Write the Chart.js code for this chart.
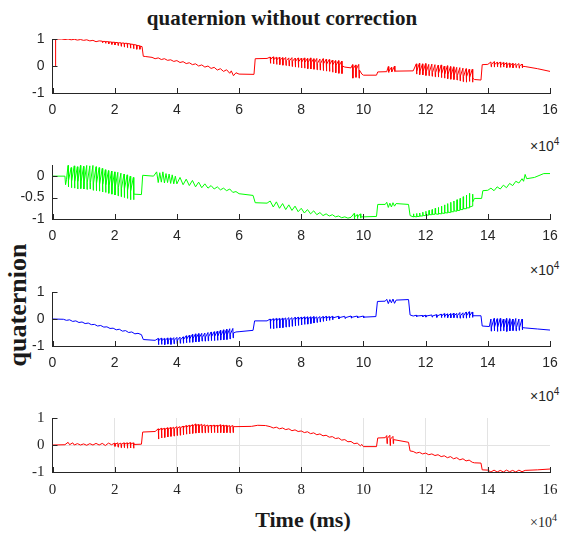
<!DOCTYPE html>
<html>
<head>
<meta charset="utf-8">
<script src="https://cdn.jsdelivr.net/npm/chart.js@4.4.1/dist/chart.umd.min.js"></script>
<style>
  body { margin: 0; background: #fff; }
  #wrap { position: relative; width: 562px; height: 533px; background: #fff; overflow: hidden; }
  canvas { position: absolute; left: 0; }
  .lbl { position: absolute; color: #262626; white-space: nowrap; }
  .serifb { font-family: "Liberation Serif", "Times New Roman", serif; font-weight: bold; color: #1a1a1a; }
  .exp { font-family: "Liberation Sans", Arial, sans-serif; font-size: 14px; }
  .exp sup { font-size: 10px; }
</style>
</head>
<body>
<div id="wrap">
  <div class="lbl serifb" style="left:0;width:564px;top:6px;text-align:center;font-size:21px;">quaternion without correction</div>
  <div class="lbl serifb" style="left:18px;top:305px;font-size:26px;transform:translate(-50%,-50%) rotate(-90deg);">quaternion</div>
  <div class="lbl serifb" style="left:303px;top:520px;font-size:22px;transform:translate(-50%,-50%);">Time (ms)</div>
  <div class="lbl exp" style="left:530px;top:136px;">&times;10<sup>4</sup></div>
  <div class="lbl exp" style="left:530px;top:260px;">&times;10<sup>4</sup></div>
  <div class="lbl exp" style="left:530px;top:386px;">&times;10<sup>4</sup></div>
  <div class="lbl exp" style="left:530px;top:512px;font-family:'Liberation Serif',serif;">&times;10<sup>4</sup></div>
  <canvas id="c0" width="562" height="100" style="top:31px"></canvas>
  <canvas id="c1" width="562" height="100" style="top:157px"></canvas>
  <canvas id="c2" width="562" height="100" style="top:284px"></canvas>
  <canvas id="c3" width="562" height="100" style="top:410px"></canvas>
</div>
<script>
// [time (x10^4 ms), value]
const q0 = [[0.1,0],[0.1,1.0],[0.3,1.0],[0.4,0.98],[0.5,1.0],[0.6,0.97],[0.7,0.99],[0.8,0.96],[0.9,0.98],[1.0,0.95],[1.1,0.97],[1.2,0.93],[1.3,0.95],[1.4,0.9],[1.5,0.93],
  [1.6,0.92],[1.61,0.86],[1.62,0.91],[1.7,0.91],[1.71,0.84],[1.72,0.9],[1.8,0.9],[1.81,0.82],[1.82,0.89],[1.9,0.89],[1.91,0.8],[1.92,0.88],[2.0,0.88],[2.01,0.78],[2.02,0.87],
  [2.1,0.87],[2.11,0.76],[2.12,0.86],[2.2,0.86],[2.21,0.73],[2.22,0.85],[2.3,0.85],[2.31,0.7],[2.32,0.84],[2.4,0.84],[2.41,0.68],[2.42,0.83],[2.5,0.82],[2.51,0.66],[2.52,0.81],
  [2.6,0.8],[2.61,0.64],[2.62,0.79],[2.7,0.78],[2.71,0.62],[2.72,0.76],[2.8,0.75],[2.81,0.62],[2.82,0.73],[2.88,0.72],
  [2.92,0.36],[3.0,0.35],[3.2,0.32],[3.3,0.27],[3.4,0.3],[3.5,0.24],[3.6,0.27],[3.7,0.21],[3.8,0.23],[3.9,0.17],[4.0,0.2],[4.1,0.13],[4.2,0.16],[4.3,0.09],[4.4,0.12],[4.5,0.05],[4.6,0.08],[4.7,0.0],[4.8,0.04],[4.9,-0.04],[5.0,0.0],[5.1,-0.09],[5.2,-0.05],[5.3,-0.15],[5.4,-0.1],[5.5,-0.2],[5.6,-0.14],[5.7,-0.27],[5.75,-0.18],[5.82,-0.36],[5.9,-0.25],[6.0,-0.3],
  [6.48,-0.31],[6.52,0.27],[6.9,0.28],
  [7.0,0.33],[7.01,0.1],[7.02,0.25],[7.1,0.34],[7.11,0.08],[7.12,0.24],[7.2,0.32],[7.21,0.06],[7.22,0.23],[7.3,0.33],[7.31,0.05],[7.32,0.22],[7.4,0.31],[7.41,0.03],[7.42,0.21],
  [7.5,0.32],[7.51,0.02],[7.52,0.2],[7.6,0.3],[7.61,0.0],[7.62,0.19],[7.7,0.31],[7.71,-0.02],[7.72,0.18],[7.8,0.29],[7.81,-0.04],[7.82,0.17],[7.9,0.3],[7.91,-0.05],[7.92,0.16],
  [8.0,0.29],[8.01,-0.07],[8.02,0.15],[8.1,0.3],[8.11,-0.08],[8.12,0.14],[8.2,0.28],[8.21,-0.1],[8.22,0.13],[8.3,0.3],[8.31,-0.11],[8.32,0.12],[8.4,0.27],[8.41,-0.12],[8.42,0.11],
  [8.5,0.28],[8.51,-0.14],[8.52,0.1],[8.6,0.26],[8.61,-0.15],[8.62,0.09],[8.7,0.27],[8.71,-0.17],[8.72,0.08],[8.8,0.25],[8.81,-0.19],[8.82,0.07],[8.9,0.24],[8.91,-0.2],[8.92,0.06],
  [9.0,0.22],[9.01,-0.23],[9.02,0.05],[9.1,0.2],[9.11,-0.25],[9.12,0.03],[9.2,0.2],[9.21,-0.27],[9.22,0.02],[9.3,0.18],[9.31,-0.28],[9.32,0.0],
  [9.4,-0.04],[9.6,-0.07],[9.65,0.05],[9.66,-0.45],[9.67,-0.1],[9.75,0.04],[9.76,-0.42],[9.77,-0.12],[9.85,0.06],[9.86,-0.45],[9.87,-0.15],[9.95,-0.3],
  [10.0,-0.34],[10.42,-0.34],[10.46,-0.22],[10.75,-0.21],[10.8,-0.02],[10.81,-0.24],[10.82,-0.2],[10.9,-0.05],[10.91,-0.22],[10.92,-0.2],[11.0,0.0],[11.01,-0.2],[11.02,-0.19],[11.6,-0.18],
  [11.7,0.08],[11.71,-0.3],[11.72,-0.18],[11.8,0.1],[11.81,-0.32],[11.82,-0.19],[11.9,0.08],[11.91,-0.33],[11.92,-0.2],[12.0,0.09],[12.01,-0.35],[12.02,-0.21],
  [12.1,0.06],[12.11,-0.36],[12.12,-0.22],[12.2,0.07],[12.21,-0.38],[12.22,-0.24],[12.3,0.05],[12.31,-0.4],[12.32,-0.25],[12.4,0.03],[12.41,-0.41],[12.42,-0.27],
  [12.5,0.04],[12.51,-0.43],[12.52,-0.28],[12.6,0.0],[12.61,-0.45],[12.62,-0.3],[12.7,0.01],[12.71,-0.47],[12.72,-0.31],[12.8,-0.02],[12.81,-0.49],[12.82,-0.33],
  [12.9,-0.03],[12.91,-0.5],[12.92,-0.34],[13.0,-0.05],[13.01,-0.52],[13.02,-0.36],[13.1,-0.06],[13.11,-0.55],[13.12,-0.37],[13.2,-0.08],[13.21,-0.58],[13.22,-0.39],
  [13.3,-0.1],[13.31,-0.6],[13.32,-0.4],[13.4,-0.12],[13.41,-0.57],[13.42,-0.42],[13.5,-0.12],[13.51,-0.6],[13.52,-0.45],[13.57,-0.5],
  [13.78,-0.52],[13.82,0.05],[14.0,0.06],
  [14.1,0.15],[14.11,-0.03],[14.12,0.06],[14.2,0.16],[14.21,-0.04],[14.22,0.05],[14.3,0.14],[14.31,-0.03],[14.32,0.05],[14.4,0.15],[14.41,-0.05],[14.42,0.04],
  [14.5,0.13],[14.51,-0.04],[14.52,0.04],[14.6,0.12],[14.61,-0.06],[14.62,0.03],[14.7,0.11],[14.71,-0.05],[14.72,0.02],[14.8,0.1],[14.81,-0.07],[14.82,0.01],
  [14.9,0.09],[14.91,-0.06],[14.92,0.01],[15.0,0.09],[15.01,-0.08],[15.02,0.0],[15.1,0.07],[15.11,-0.07],[15.12,-0.01],
  [15.2,-0.02],[15.6,-0.1],[16.0,-0.2]];

const q1 = [[0,0],[0.4,0],[0.42,-0.2],[0.45,-0.08],
  [0.5,0.25],[0.51,-0.25],[0.52,-0.1],[0.6,0.2],[0.61,-0.27],[0.62,-0.11],[0.7,0.24],[0.71,-0.28],[0.72,-0.12],[0.8,0.22],[0.81,-0.3],[0.82,-0.12],
  [0.9,0.25],[0.91,-0.29],[0.92,-0.13],[1.0,0.23],[1.01,-0.3],[1.02,-0.13],[1.1,0.25],[1.11,-0.31],[1.12,-0.14],[1.2,0.24],[1.21,-0.3],[1.22,-0.15],
  [1.3,0.25],[1.31,-0.33],[1.32,-0.16],[1.4,0.22],[1.41,-0.34],[1.42,-0.17],[1.5,0.2],[1.51,-0.35],[1.52,-0.18],[1.6,0.18],[1.61,-0.37],[1.62,-0.19],
  [1.7,0.15],[1.71,-0.38],[1.72,-0.2],[1.8,0.13],[1.81,-0.4],[1.82,-0.22],[1.9,0.12],[1.91,-0.42],[1.92,-0.23],[2.0,0.1],[2.01,-0.44],[2.02,-0.25],
  [2.1,0.09],[2.11,-0.46],[2.12,-0.26],[2.2,0.07],[2.21,-0.48],[2.22,-0.28],[2.3,0.05],[2.31,-0.5],[2.32,-0.3],[2.4,0.03],[2.41,-0.52],[2.42,-0.32],
  [2.5,0.0],[2.51,-0.55],[2.52,-0.34],[2.6,-0.03],[2.61,-0.55],[2.62,-0.42],
  [2.86,-0.43],[2.9,0.02],[3.25,0.0],
  [3.35,0.1],[3.4,-0.15],[3.45,0.08],[3.5,-0.14],[3.55,0.1],[3.6,-0.16],[3.65,0.06],[3.7,-0.15],[3.75,0.05],[3.8,-0.17],[3.85,0.03],[3.9,-0.18],[3.95,0.0],[4.0,-0.18],[4.1,-0.03],[4.2,-0.2],[4.3,-0.07],[4.4,-0.22],[4.5,-0.1],[4.6,-0.25],[4.7,-0.14],[4.8,-0.27],[4.9,-0.18],[5.0,-0.28],[5.1,-0.22],[5.2,-0.3],[5.3,-0.25],[5.4,-0.32],[5.5,-0.28],[5.6,-0.34],[5.7,-0.3],[5.8,-0.38],[5.9,-0.36],
  [6.0,-0.41],[6.45,-0.45],[6.52,-0.62],[6.9,-0.63],
  [7.0,-0.58],[7.1,-0.72],[7.2,-0.6],[7.3,-0.75],[7.4,-0.64],[7.5,-0.78],[7.6,-0.67],[7.7,-0.8],[7.8,-0.7],[7.9,-0.83],[8.0,-0.75],[8.1,-0.86],[8.2,-0.78],[8.3,-0.88],[8.4,-0.81],[8.5,-0.9],[8.6,-0.85],[8.7,-0.92],[8.8,-0.88],[8.9,-0.93],[9.0,-0.9],[9.1,-0.95],[9.2,-0.93],[9.3,-0.97],[9.4,-0.95],[9.5,-0.98],[9.6,-0.96],
  [9.7,-0.87],[9.71,-1.0],[9.72,-0.95],[9.8,-0.9],[9.81,-0.99],[9.82,-0.95],[9.9,-0.88],[9.91,-0.98],[9.92,-0.95],
  [10.0,-0.95],[10.42,-0.94],[10.46,-0.66],[10.7,-0.66],[10.75,-0.61],[10.8,-0.73],[10.85,-0.63],[10.9,-0.72],[10.95,-0.62],[11.0,-0.7],[11.05,-0.64],[11.45,-0.66],[11.5,-0.92],
  [11.6,-0.95],[11.61,-0.88],[11.62,-0.94],[11.7,-0.95],[11.71,-0.87],[11.72,-0.94],[11.8,-0.94],[11.81,-0.86],[11.82,-0.93],[11.9,-0.93],[11.91,-0.84],[11.92,-0.92],
  [12.0,-0.92],[12.01,-0.82],[12.02,-0.91],[12.1,-0.91],[12.11,-0.8],[12.12,-0.9],[12.2,-0.9],[12.21,-0.78],[12.22,-0.89],[12.3,-0.89],[12.31,-0.75],[12.32,-0.88],
  [12.4,-0.89],[12.41,-0.73],[12.42,-0.87],[12.5,-0.88],[12.51,-0.7],[12.52,-0.86],[12.6,-0.87],[12.61,-0.67],[12.62,-0.85],[12.7,-0.86],[12.71,-0.64],[12.72,-0.84],
  [12.8,-0.85],[12.81,-0.61],[12.82,-0.83],[12.9,-0.83],[12.91,-0.58],[12.92,-0.81],[13.0,-0.82],[13.01,-0.55],[13.02,-0.8],[13.1,-0.8],[13.11,-0.52],[13.12,-0.78],
  [13.2,-0.78],[13.21,-0.48],[13.22,-0.76],[13.3,-0.76],[13.31,-0.44],[13.32,-0.74],[13.4,-0.74],[13.41,-0.4],[13.42,-0.72],[13.5,-0.7],[13.51,-0.42],[13.52,-0.6],
  [13.57,-0.52],[13.8,-0.52],[13.84,-0.34],[14.0,-0.33],
  [14.1,-0.28],[14.2,-0.34],[14.3,-0.25],[14.4,-0.3],[14.5,-0.21],[14.6,-0.27],[14.7,-0.17],[14.8,-0.22],[14.9,-0.12],[15.0,-0.16],[15.1,-0.06],[15.15,-0.12],[15.2,0.04],[15.25,-0.06],[15.5,-0.03],[15.8,0.06],[16.0,0.06]];

const q2 = [[0,0],[0.35,-0.01],
  [0.45,-0.05],[0.55,-0.03],[0.65,-0.09],[0.75,-0.07],[0.85,-0.13],[0.95,-0.11],[1.05,-0.17],[1.15,-0.15],[1.25,-0.21],[1.35,-0.2],[1.45,-0.26],[1.55,-0.24],[1.65,-0.3],[1.75,-0.29],[1.85,-0.35],[1.95,-0.34],[2.05,-0.4],[2.15,-0.38],[2.25,-0.45],[2.35,-0.43],[2.45,-0.5],[2.55,-0.48],[2.65,-0.55],[2.75,-0.53],[2.86,-0.58],[2.92,-0.76],[3.3,-0.79],
  [3.4,-0.72],[3.41,-0.95],[3.42,-0.8],[3.5,-0.71],[3.51,-0.94],[3.52,-0.8],[3.6,-0.72],[3.61,-0.95],[3.62,-0.8],[3.7,-0.7],[3.71,-0.93],[3.72,-0.79],
  [3.8,-0.7],[3.81,-0.94],[3.82,-0.79],[3.9,-0.69],[3.91,-0.92],[3.92,-0.78],[4.0,-0.68],[4.01,-0.92],[4.02,-0.78],[4.1,-0.67],[4.11,-0.9],[4.12,-0.77],
  [4.2,-0.66],[4.21,-0.9],[4.22,-0.76],[4.3,-0.62],[4.31,-0.88],[4.32,-0.74],[4.4,-0.6],[4.41,-0.87],[4.42,-0.73],[4.5,-0.57],[4.51,-0.86],[4.52,-0.72],
  [4.6,-0.55],[4.61,-0.85],[4.62,-0.7],[4.7,-0.54],[4.71,-0.84],[4.72,-0.69],[4.8,-0.53],[4.81,-0.82],[4.82,-0.68],[4.9,-0.52],[4.91,-0.82],[4.92,-0.67],
  [5.0,-0.5],[5.01,-0.81],[5.02,-0.66],[5.1,-0.48],[5.11,-0.8],[5.12,-0.65],[5.2,-0.47],[5.21,-0.8],[5.22,-0.64],[5.3,-0.45],[5.31,-0.79],[5.32,-0.63],
  [5.4,-0.42],[5.41,-0.78],[5.42,-0.61],[5.5,-0.4],[5.51,-0.77],[5.52,-0.6],[5.6,-0.38],[5.61,-0.76],[5.62,-0.58],[5.7,-0.36],[5.71,-0.74],[5.72,-0.56],
  [5.8,-0.35],[5.81,-0.7],[5.82,-0.52],[5.9,-0.48],
  [6.0,-0.47],[6.45,-0.42],[6.5,-0.07],[6.9,-0.07],
  [7.0,0.0],[7.01,-0.35],[7.02,-0.06],[7.1,0.01],[7.11,-0.36],[7.12,-0.06],[7.2,0.02],[7.21,-0.34],[7.22,-0.05],[7.3,0.02],[7.31,-0.33],[7.32,-0.05],
  [7.4,0.03],[7.41,-0.32],[7.42,-0.04],[7.5,0.04],[7.51,-0.3],[7.52,-0.04],[7.6,0.05],[7.61,-0.29],[7.62,-0.03],[7.7,0.05],[7.71,-0.27],[7.72,-0.03],
  [7.8,0.06],[7.81,-0.26],[7.82,-0.02],[7.9,0.07],[7.91,-0.24],[7.92,-0.02],[8.0,0.07],[8.01,-0.22],[8.02,-0.01],[8.1,0.08],[8.11,-0.2],[8.12,-0.01],
  [8.2,0.08],[8.21,-0.19],[8.22,0.0],[8.3,0.08],[8.31,-0.17],[8.32,0.0],[8.4,0.09],[8.41,-0.15],[8.42,0.01],[8.5,0.08],[8.51,-0.13],[8.52,0.01],
  [8.6,0.09],[8.61,-0.11],[8.62,0.02],[8.7,0.09],[8.71,-0.09],[8.72,0.02],[8.8,0.1],[8.81,-0.07],[8.82,0.03],[8.9,0.09],[8.91,-0.05],[8.92,0.03],
  [9.0,0.1],[9.01,-0.03],[9.02,0.04],[9.2,0.1],[9.21,0.0],[9.22,0.05],[9.4,0.1],[9.41,0.02],[9.42,0.05],[9.6,0.11],[9.61,0.03],[9.62,0.06],
  [9.8,0.11],[9.81,0.04],[9.82,0.06],[10.0,0.11],[10.01,0.05],[10.02,0.07],
  [10.4,0.09],[10.45,0.65],[10.7,0.66],[10.75,0.73],[10.8,0.57],[10.85,0.72],[10.9,0.6],[10.95,0.74],[11.0,0.58],[11.05,0.7],[11.45,0.72],[11.5,0.15],
  [11.6,0.11],[11.7,0.14],[11.71,0.08],[11.72,0.11],[11.9,0.13],[11.91,0.08],[11.92,0.11],[12.0,0.14],[12.01,0.07],[12.02,0.11],[12.2,0.15],[12.21,0.07],[12.22,0.11],
  [12.35,0.16],[12.36,0.06],[12.37,0.11],[12.5,0.18],[12.51,0.05],[12.52,0.11],[12.6,0.2],[12.61,0.06],[12.62,0.11],[12.7,0.19],[12.71,0.05],[12.72,0.11],
  [12.8,0.2],[12.81,0.04],[12.82,0.12],[12.9,0.22],[12.91,0.05],[12.92,0.12],[13.0,0.21],[13.01,0.04],[13.02,0.12],[13.1,0.24],[13.11,0.03],[13.12,0.12],
  [13.2,0.23],[13.21,0.04],[13.22,0.12],[13.3,0.26],[13.31,0.03],[13.32,0.12],[13.4,0.27],[13.41,0.05],[13.42,0.12],[13.5,0.26],[13.51,0.06],[13.52,0.12],
  [13.78,0.12],[13.82,-0.26],[14.05,-0.28],
  [14.1,0.0],[14.11,-0.45],[14.12,-0.3],[14.2,0.02],[14.21,-0.44],[14.22,-0.3],[14.3,0.01],[14.31,-0.46],[14.32,-0.3],[14.4,0.02],[14.41,-0.45],[14.42,-0.31],
  [14.5,0.0],[14.51,-0.44],[14.52,-0.31],[14.6,0.02],[14.61,-0.46],[14.62,-0.31],[14.7,0.01],[14.71,-0.44],[14.72,-0.31],[14.8,0.0],[14.81,-0.43],[14.82,-0.32],
  [14.9,0.02],[14.91,-0.44],[14.92,-0.32],[15.0,0.0],[15.01,-0.42],[15.02,-0.32],[15.1,0.0],[15.11,-0.4],[15.12,-0.32],
  [15.2,-0.33],[15.6,-0.37],[16.0,-0.41]];

const q3 = [[0,0],[0.4,0.01],
  [0.5,0.1],[0.55,0.01],[0.65,0.08],[0.7,0.0],[0.8,0.05],[0.9,0.0],[1.0,0.04],[1.1,-0.01],[1.2,0.05],[1.3,0.0],[1.4,0.06],[1.5,0.0],[1.6,0.06],[1.7,-0.02],[1.8,0.07],[1.9,0.01],
  [2.0,0.07],[2.01,-0.05],[2.02,0.03],[2.1,0.08],[2.11,-0.08],[2.12,0.03],[2.2,0.07],[2.21,-0.1],[2.22,0.03],[2.3,0.08],[2.31,-0.1],[2.32,0.03],
  [2.4,0.08],[2.41,-0.12],[2.42,0.03],[2.5,0.09],[2.51,-0.11],[2.52,0.03],[2.6,0.08],[2.61,-0.12],[2.62,0.02],
  [2.86,0.03],[2.9,0.48],[3.3,0.5],
  [3.4,0.6],[3.41,0.22],[3.42,0.55],[3.5,0.62],[3.51,0.26],[3.52,0.57],[3.6,0.62],[3.61,0.28],[3.62,0.58],[3.7,0.64],[3.71,0.3],[3.72,0.59],
  [3.8,0.65],[3.81,0.32],[3.82,0.6],[3.9,0.66],[3.91,0.33],[3.92,0.61],[4.0,0.68],[4.01,0.35],[4.02,0.63],[4.1,0.68],[4.11,0.36],[4.12,0.64],
  [4.2,0.7],[4.21,0.38],[4.22,0.65],[4.3,0.72],[4.31,0.4],[4.32,0.67],[4.4,0.73],[4.41,0.41],[4.42,0.68],[4.5,0.75],[4.51,0.43],[4.52,0.7],
  [4.6,0.78],[4.61,0.44],[4.62,0.72],[4.7,0.76],[4.71,0.45],[4.72,0.71],[4.8,0.77],[4.81,0.45],[4.82,0.71],[4.9,0.75],[4.91,0.45],[4.92,0.7],
  [5.0,0.74],[5.01,0.46],[5.02,0.7],[5.1,0.73],[5.11,0.45],[5.12,0.69],[5.2,0.74],[5.21,0.46],[5.22,0.69],[5.3,0.73],[5.31,0.45],[5.32,0.69],
  [5.4,0.75],[5.41,0.46],[5.42,0.69],[5.5,0.74],[5.51,0.45],[5.52,0.69],[5.6,0.73],[5.61,0.46],[5.62,0.68],[5.7,0.72],[5.71,0.45],[5.72,0.68],
  [5.8,0.72],[5.81,0.46],[5.82,0.68],[5.9,0.68],
  [6.4,0.69],[6.6,0.73],[6.85,0.72],
  [7.0,0.68],[7.1,0.63],[7.2,0.66],[7.3,0.6],[7.4,0.63],[7.5,0.57],[7.6,0.6],[7.7,0.53],[7.8,0.56],[7.9,0.5],[8.0,0.52],[8.1,0.46],[8.2,0.49],[8.3,0.42],[8.4,0.45],[8.5,0.38],[8.6,0.41],[8.7,0.34],[8.8,0.36],[8.9,0.29],[9.0,0.31],[9.1,0.24],[9.2,0.26],[9.3,0.18],[9.4,0.2],[9.5,0.12],[9.6,0.13],[9.7,0.05],[9.8,0.07],[9.9,-0.03],[9.95,0.02],[10.0,-0.06],
  [10.42,-0.06],[10.46,0.26],[10.7,0.27],[10.75,0.35],[10.76,0.05],[10.77,0.25],[10.85,0.36],[10.86,-0.02],[10.87,0.22],[10.95,0.32],[10.96,0.05],[10.97,0.2],[11.45,0.1],[11.5,-0.22],
  [11.6,-0.24],[11.7,-0.3],[11.8,-0.27],[11.9,-0.33],[12.0,-0.3],[12.1,-0.36],[12.2,-0.33],[12.3,-0.39],[12.4,-0.36],[12.5,-0.43],[12.6,-0.4],[12.7,-0.47],[12.8,-0.43],[12.9,-0.51],[13.0,-0.47],[13.1,-0.55],[13.2,-0.51],[13.3,-0.59],[13.4,-0.56],[13.5,-0.64],[13.57,-0.66],
  [13.78,-0.67],[13.82,-0.92],[14.0,-0.93],
  [14.1,-1.0],[14.2,-0.93],[14.3,-1.0],[14.4,-0.94],[14.5,-1.0],[14.6,-0.93],[14.7,-0.99],[14.8,-0.94],[14.9,-1.0],[15.0,-0.93],[15.1,-0.99],[15.2,-0.94],[15.6,-0.92],[16.0,-0.89]];

const xTicks = [0, 2, 4, 6, 8, 10, 12, 14, 16];
const yTicksFull = [-1, 0, 1];
const yTicksQ1 = [-1, -0.5, 0];

const panels = [
  { id: 'c0', data: q0, color: '#ff0000', yMin: -1, yMax: 1, yTicks: yTicksFull, grid: false },
  { id: 'c1', data: q1, color: '#00ff00', yMin: -1, yMax: 0.26, yTicks: yTicksQ1, grid: false },
  { id: 'c2', data: q2, color: '#0000ff', yMin: -1, yMax: 1, yTicks: yTicksFull, grid: false },
  { id: 'c3', data: q3, color: '#ff0000', yMin: -1, yMax: 1, yTicks: yTicksFull, grid: true }
];

const AXIS = '#262626';

// MATLAB style tick marks pointing into the plot
const inwardTicks = {
  id: 'inwardTicks',
  afterDraw(chart) {
    const { ctx, chartArea, scales } = chart;
    ctx.save();
    ctx.strokeStyle = AXIS;
    ctx.lineWidth = 1;
    ctx.beginPath();
    scales.x.ticks.forEach(t => {
      const px = Math.round(scales.x.getPixelForValue(t.value)) + 0.5;
      ctx.moveTo(px, chartArea.bottom);
      ctx.lineTo(px, chartArea.bottom - 5);
    });
    scales.y.ticks.forEach(t => {
      const py = Math.round(scales.y.getPixelForValue(t.value)) + 0.5;
      ctx.moveTo(chartArea.left, py);
      ctx.lineTo(chartArea.left + 5, py);
    });
    ctx.stroke();
    ctx.restore();
  }
};

panels.forEach(p => {
  const font = p.grid
    ? { family: '"Liberation Serif", "Times New Roman", serif', size: 15 }
    : { family: '"Liberation Sans", Arial, sans-serif', size: 14 };
  const gridColor = (edges) => (ctx) =>
    (p.grid && ctx.tick && !edges.includes(ctx.tick.value)) ? '#e3e3e3' : 'rgba(0,0,0,0)';

  new Chart(document.getElementById(p.id).getContext('2d'), {
    type: 'line',
    data: {
      datasets: [{
        data: p.data.map(([t, v]) => ({ x: t, y: v })),
        borderColor: p.color,
        borderWidth: 1,
        pointRadius: 0,
        tension: 0,
        fill: false
      }]
    },
    options: {
      responsive: false,
      animation: false,
      events: [],
      layout: { padding: { top: 8, right: 12, left: 0, bottom: 0 } },
      plugins: { legend: { display: false }, tooltip: { enabled: false } },
      scales: {
        x: {
          type: 'linear',
          min: 0,
          max: 16,
          afterBuildTicks: s => { s.ticks = xTicks.map(v => ({ value: v })); },
          afterFit: s => { s.height = 38; s.paddingLeft = 0; s.paddingRight = 0; },
          grid: { drawTicks: false, color: gridColor([0, 16]) },
          border: { color: AXIS, width: 1 },
          ticks: { padding: 9, color: AXIS, font, maxRotation: 0, callback: v => String(v) }
        },
        y: {
          type: 'linear',
          min: p.yMin,
          max: p.yMax,
          afterBuildTicks: s => { s.ticks = p.yTicks.map(v => ({ value: v })); },
          afterFit: s => { s.width = 52.5; s.paddingTop = 0; s.paddingBottom = 0; },
          grid: { drawTicks: false, color: gridColor([-1, 1]) },
          border: { color: AXIS, width: 1 },
          ticks: { padding: 8, color: AXIS, font, callback: v => String(v) }
        }
      }
    },
    plugins: [inwardTicks]
  });
});
</script>
</body>
</html>
